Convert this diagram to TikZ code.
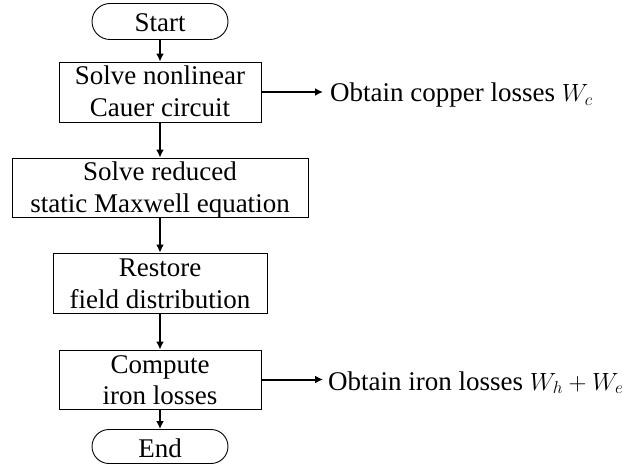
\documentclass[tikz,border=0pt]{standalone}
\usepackage{fontspec}
\setmainfont{Liberation Serif}
\usetikzlibrary{arrows.meta,shapes.misc}
\begin{document}
\begin{tikzpicture}[x=1pt,y=-1pt,
  every node/.style={font=\fontsize{27}{31.5}\selectfont},
  procbox/.style={draw=black,line width=0.9pt,rectangle,inner sep=0pt,minimum height=60pt},
  term/.style={draw=black,line width=0.9pt,rounded rectangle,inner sep=0pt,minimum width=136pt,minimum height=36pt},
  lbl/.style={align=center,inner sep=0pt,anchor=base},
  flow/.style={line width=2pt,-{Latex[length=8pt,width=8pt]}}]
\useasboundingbox (0,0) rectangle (643,465);
\node[term] (start) at (160,21.5) {};
\node[lbl] (starttxt) at (160,32) {Start};
\node[procbox,minimum width=202pt] (b1) at (160,92) {};
\node[lbl] (t1) at (160,116.5) {Solve nonlinear\\Cauer circuit};
\node[procbox,minimum width=296pt,minimum height=59pt] (b2) at (160,187.5) {};
\node[lbl] (t2) at (160,212.5) {Solve reduced\\static Maxwell equation};
\node[procbox,minimum width=214pt] (b3) at (160,283) {};
\node[lbl] (t3) at (160,308.5) {Restore\\field distribution};
\node[procbox,minimum width=202pt,minimum height=59pt] (b4) at (160,379.5) {};
\node[lbl] (t4) at (160,404.5) {Compute\\iron losses};
\node[term,minimum height=34pt] (end) at (160,446.5) {};
\node[lbl] (endtxt) at (160,457) {End};
\coordinate (tip1) at (323,92);
\coordinate (tip2) at (323,379.5);
\node[inner sep=0pt,anchor=base west] (o1) at (330,102) {Obtain copper losses $W_c$};
\node[inner sep=0pt,anchor=base west] (o2) at (328,390) {Obtain iron losses $W_h+W_e$};
\draw[flow] (start) -- (b1);
\draw[flow] (b1) -- (b2);
\draw[flow] (b2) -- (b3);
\draw[flow] (b3) -- (b4);
\draw[flow] (b4) -- (end);
\draw[flow] (b1.east) -- (tip1);
\draw[flow] (b4.east) -- (tip2);
\end{tikzpicture}
\end{document}
